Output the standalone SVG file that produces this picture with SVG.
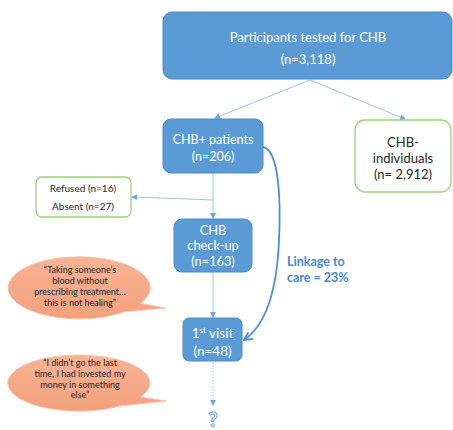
<svg xmlns="http://www.w3.org/2000/svg" width="453" height="430" viewBox="0 0 453 430">
<defs>
<style>
.bx{fill:#5b9bd5;stroke:#4f8bc4;stroke-width:1}
.gb{fill:#fff;stroke:#9ed27f;stroke-width:1.3}
.wt{font-family:Lato,"Liberation Sans",sans-serif;fill:#fff;text-anchor:middle}
.dk{font-family:Lato,"Liberation Sans",sans-serif;fill:#262626;text-anchor:middle}
.ln{stroke:#9dc3e6;stroke-width:1;fill:none}
.bub{fill:url(#og);stroke:#f6c3aa;stroke-width:1}
</style>
<linearGradient id="og" x1="0" y1="0" x2="0" y2="1">
<stop offset="0" stop-color="#f7b496"/>
<stop offset="1" stop-color="#f3a07c"/>
</linearGradient>
<marker id="ah" markerWidth="6" markerHeight="6" refX="5" refY="3" orient="auto" markerUnits="userSpaceOnUse">
<path d="M0,0 L6,3 L0,6 Z" fill="#6fa6dc"/>
</marker>
<marker id="ah2" markerWidth="10" markerHeight="10" refX="8" refY="5" orient="auto" markerUnits="userSpaceOnUse">
<path d="M0,1 L8,5 L0,9" fill="none" stroke="#4a8fd8" stroke-width="1.8"/>
</marker>
</defs>
<rect width="453" height="430" fill="#fff"/>
<g id="connectors">
<line class="ln" x1="310" y1="80" x2="215" y2="118" marker-end="url(#ah)"/>
<line class="ln" x1="310" y1="80" x2="405" y2="119" marker-end="url(#ah)"/>
<line class="ln" x1="213" y1="173" x2="213" y2="218" marker-end="url(#ah)"/>
<line class="ln" x1="213" y1="200" x2="132" y2="197" marker-end="url(#ah)"/>
<line class="ln" x1="213" y1="272" x2="213" y2="317" marker-end="url(#ah)"/>
<line class="ln" x1="213" y1="362" x2="213" y2="405" stroke-dasharray="1.5,1.5" marker-end="url(#ah)"/>
<path d="M263,147 C279,150 281,200 279,240 C277,290 266,325 244,340" fill="none" stroke="#4a8fd8" stroke-width="1.8" marker-end="url(#ah2)"/>
</g>
<g id="n-tested">
<rect class="bx" x="163" y="12" width="289" height="67" rx="9"/>
<text class="wt" x="308" y="42" font-size="13">Participants tested for CHB</text>
<text class="wt" x="308" y="64" font-size="13">(n=3,118)</text>
</g>
<g id="n-pos">
<rect class="bx" x="163" y="119" width="100" height="54" rx="8"/>
<text class="wt" x="213" y="143.5" font-size="12.5">CHB+ patients</text>
<text class="wt" x="213" y="160.5" font-size="12.5">(n=206)</text>
</g>
<g id="n-neg">
<rect class="gb" x="355" y="120" width="96" height="72" rx="10"/>
<text class="dk" x="403" y="146.5" font-size="13">CHB-</text>
<text class="dk" x="403" y="162.5" font-size="13">individuals</text>
<text class="dk" x="403" y="178.5" font-size="13">(n= 2,912)</text>
</g>
<g id="n-refused">
<rect class="gb" x="36" y="177" width="95" height="40" rx="6"/>
<text class="dk" x="83" y="191.5" font-size="10">Refused (n=16)</text>
<text class="dk" x="83" y="209.5" font-size="10">Absent (n=27)</text>
</g>
<g id="n-checkup">
<rect class="bx" x="174" y="219" width="78" height="53" rx="8"/>
<text class="wt" x="213" y="234.5" font-size="12.8">CHB</text>
<text class="wt" x="213" y="250" font-size="12.8">check-up</text>
<text class="wt" x="213" y="265.5" font-size="12.8">(n=163)</text>
</g>
<g id="n-visit">
<rect class="bx" x="183" y="318" width="59" height="43" rx="6"/>
<text class="wt" x="212.5" y="337.5" font-size="13.5">1<tspan font-size="8" dy="-5">st</tspan><tspan dy="5"> visit</tspan></text>
<text class="wt" x="212.5" y="355.5" font-size="13.5">(n=48)</text>
</g>
<g id="n-unknown">
<text x="213" y="427" font-family="Lato,'Liberation Sans',sans-serif" font-size="20" font-weight="bold" fill="#fff" stroke="#6fa6dc" stroke-width="1" text-anchor="middle">?</text>
</g>
<g id="n-linkage">
<text x="287" y="266" font-family="Lato,'Liberation Sans',sans-serif" font-size="12.5" font-weight="bold" fill="#4a86cc">Linkage to</text>
<text x="287" y="282" font-family="Lato,'Liberation Sans',sans-serif" font-size="12.5" font-weight="bold" fill="#4a86cc">care = 23%</text>
</g>
<g id="n-quote1">
<path class="bub" d="M140.5,303.5 L166,308 L124.6,311.7 A71,31 0 1 1 140.5,303.5 Z"/>
<text class="dk" x="80" y="273" font-size="9">“Taking someone’s</text>
<text class="dk" x="80" y="284" font-size="9">blood without</text>
<text class="dk" x="80" y="294.5" font-size="9">prescribing treatment…</text>
<text class="dk" x="80" y="305.5" font-size="9">this is not healing”</text>
</g>
<g id="n-quote2">
<path class="bub" d="M140.5,397 L166,401 L119.7,406 A71,28 0 1 1 140.5,397 Z"/>
<text class="dk" x="80" y="366" font-size="9">“I didn’t go the last</text>
<text class="dk" x="80" y="377" font-size="9">time, I had invested my</text>
<text class="dk" x="80" y="387.5" font-size="9">money in something</text>
<text class="dk" x="80" y="398" font-size="9">else”</text>
</g>
</svg>
